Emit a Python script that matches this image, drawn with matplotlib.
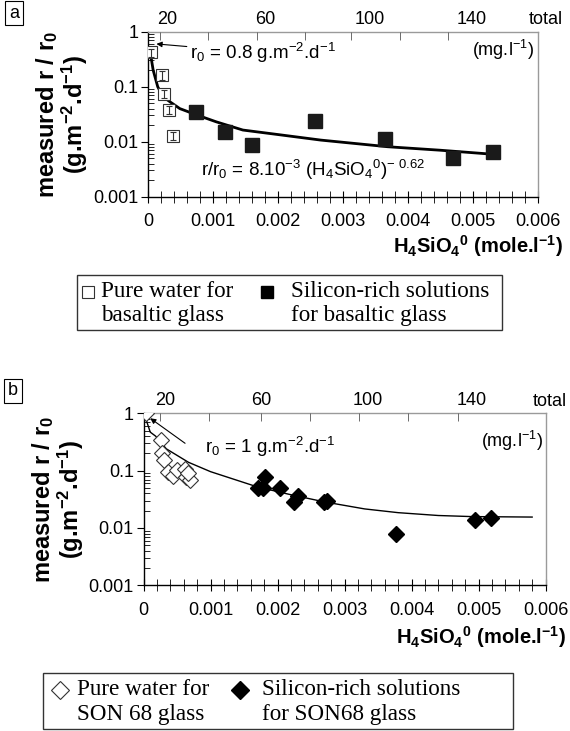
import matplotlib.pyplot as plt
import matplotlib.patches as mpatches
from matplotlib.ticker import FixedLocator, LogLocator, NullFormatter
import numpy as np

plt.rcParams['font.family'] = ['Liberation Sans', 'DejaVu Sans']
plt.rcParams['mathtext.default'] = 'regular'

# panel a : basaltic glass
a_pure_x = [0.00005, 0.00021, 0.00024, 0.00032, 0.00039]
a_pure_y = [0.42, 0.163, 0.074, 0.038, 0.0129]
a_pure_err = [0.17, 0.17, 0.17, 0.17, 0.17]   # relative error bars
a_si_x = [0.00074, 0.00119, 0.0016, 0.00257, 0.00365, 0.00469, 0.00531]
a_si_y = [0.035, 0.0152, 0.0087, 0.024, 0.0112, 0.0050, 0.0066]
a_fit_x = [0.00003, 0.00008, 0.00015, 0.00023, 0.00035, 0.00049, 0.00074,
           0.00105, 0.00146, 0.002, 0.00266, 0.00369, 0.0045, 0.0054]
a_fit_y = [0.46, 0.2, 0.1, 0.066, 0.052, 0.04, 0.031,
           0.023, 0.0163, 0.0135, 0.0107, 0.0081, 0.007, 0.0058]
a_top_ticks = [0.00019, 0.00093, 0.00168, 0.00242, 0.00313, 0.00387, 0.00461]
a_top_label_pos = [0.00029, 0.0018, 0.00341, 0.00498]

# panel b : SON68 glass
b_pure_x = [0.00003, 0.00026, 0.00027, 0.00031, 0.00037, 0.00044, 0.0005,
            0.00062, 0.00064, 0.00069, 0.00067]
b_pure_y = [1.0, 0.34, 0.2, 0.153, 0.096, 0.08, 0.102, 0.105, 0.076, 0.07, 0.092]
b_si_x = [0.00171, 0.00179, 0.00181, 0.00203, 0.00225, 0.00231, 0.0027,
          0.00274, 0.00377, 0.00495, 0.00519]
b_si_y = [0.049, 0.049, 0.076, 0.049, 0.0286, 0.036, 0.0286, 0.03, 0.0078,
          0.0136, 0.015]
b_fit_x = [0.00002, 0.0001, 0.00018, 0.00034, 0.00067, 0.001, 0.0017, 0.0022,
           0.0027, 0.0033, 0.0038, 0.0044, 0.0049, 0.0058]
b_fit_y = [0.9, 0.47, 0.4, 0.24, 0.14, 0.096, 0.052, 0.038,
           0.0285, 0.0215, 0.0185, 0.0165, 0.0158, 0.0155]
b_top_ticks = [0.00024, 0.00098, 0.00176, 0.00248, 0.00322, 0.00395, 0.0047]
b_top_label_pos = [0.00033, 0.00175, 0.00334, 0.0049]

top_labels = ['20', '60', '100', '140']
x_ticks = [0, 0.001, 0.002, 0.003, 0.004, 0.005, 0.006]
x_ticklabels = ['0', '0.001', '0.002', '0.003', '0.004', '0.005', '0.006']
y_ticks = [0.001, 0.01, 0.1, 1]
y_ticklabels = ['0.001', '0.01', '0.1', '1']

fig = plt.figure(figsize=(5.7, 7.31), dpi=100)

TS = 13  # tick label size


def setup_axes(ax, top_ticks, top_label_pos):
    ax.set_yscale('log')
    ax.set_xlim(0, 0.006)
    ax.set_ylim(0.001, 1)
    ax.set_xticks(x_ticks)
    ax.set_xticklabels(x_ticklabels)
    ax.xaxis.set_minor_locator(FixedLocator(np.arange(0, 0.0061, 0.0002)))
    ax.set_yticks(y_ticks)
    ax.set_yticklabels(y_ticklabels)
    ax.yaxis.set_minor_locator(LogLocator(base=10, subs=np.arange(2, 10)))
    ax.yaxis.set_minor_formatter(NullFormatter())
    ax.tick_params(axis='x', which='major', direction='inout', length=8,
                   labelsize=TS, pad=8)
    ax.tick_params(axis='x', which='minor', direction='inout', length=8)
    ax.tick_params(axis='y', which='major', direction='out', length=5,
                   labelsize=TS, pad=2)
    ax.tick_params(axis='y', which='minor', direction='in', length=4)
    for s in ['left', 'bottom']:
        ax.spines[s].set_color('black')
        ax.spines[s].set_linewidth(1.0)
    for s in ['top', 'right']:
        ax.spines[s].set_color('#9a9a9a')
        ax.spines[s].set_linewidth(1.0)
    # top axis in mg/l
    axt = ax.twiny()
    axt.set_xlim(ax.get_xlim())
    axt.set_xticks(top_label_pos)
    axt.set_xticklabels(top_labels)
    axt.tick_params(axis='x', which='major', length=0, labelsize=TS, pad=3)
    axt.xaxis.set_minor_locator(FixedLocator(top_ticks))
    axt.tick_params(axis='x', which='minor', direction='in', length=6,
                    color='#555555')
    for s in axt.spines.values():
        s.set_visible(False)
    ax.text(1.065, 1.02, 'total', transform=ax.transAxes, ha='right',
            va='bottom', fontsize=TS)
    ax.set_ylabel('measured r / r$_0$\n(g.m$^{-2}$.d$^{-1}$)', fontsize=17,
                  fontweight='bold', linespacing=1.0, labelpad=2)
    ax.set_xlabel('H$_4$SiO$_4$$^0$ (mole.l$^{-1}$)', fontsize=14.5,
                  fontweight='bold')
    ax.xaxis.label.set_ha('right')
    ax.xaxis.label.set_va('center')
    return axt


# ---------------- panel a ----------------
axa = fig.add_axes([0.2596, 0.7309, 0.6842, 0.2257])
setup_axes(axa, a_top_ticks, a_top_label_pos)
axa.xaxis.set_label_coords(1.065, -0.3)
axa.plot(a_fit_x, a_fit_y, color='black', lw=2.0, zorder=2)
axa.plot(a_pure_x, a_pure_y, 's', ms=8.5, mfc='white', mec='#333333',
         mew=0.8, zorder=3)
axa.errorbar(a_pure_x, a_pure_y,
             yerr=[np.array(a_pure_y) * np.array(a_pure_err),
                   np.array(a_pure_y) * np.array(a_pure_err)],
             fmt='none', ecolor='#333333', elinewidth=0.8, capsize=2,
             capthick=0.8, zorder=3.5)
axa.plot(a_si_x, a_si_y, 's', ms=9.5, color='#1a1a1a', zorder=4)
axa.annotate(r'r$_0$ = 0.8 g.m$^{-2}$.d$^{-1}$', xy=(0.00013, 0.6),
             xytext=(0.00064, 0.41), va='center', fontsize=13.5,
             arrowprops=dict(arrowstyle='-|>', color='black', lw=0.8,
                             mutation_scale=8, shrinkA=0, shrinkB=0))
axa.text(0.00082, 0.0031,
         r'r/r$_0$ = 8.10$^{-3}$ (H$_4$SiO$_4$$^0$)$^{-\ 0.62}$',
         va='center', fontsize=13.5)
axa.text(0.99, 0.89, r'(mg.l$^{-1}$)', transform=axa.transAxes, ha='right',
         va='center', fontsize=TS)

# ---------------- panel b ----------------
axb = fig.add_axes([0.2518, 0.1993, 0.7053, 0.2353])
setup_axes(axb, b_top_ticks, b_top_label_pos)
axb.texts[0].set_x(1.052)
axb.xaxis.set_label_coords(1.05, -0.3)
axb.plot(b_fit_x, b_fit_y, color='black', lw=1.0, zorder=2)
axb.plot(b_pure_x, b_pure_y, 'D', ms=8, mfc='white', mec='#333333', mew=0.8,
         zorder=3)
axb.plot(b_si_x, b_si_y, 'D', ms=8.5, color='black', zorder=4)
axb.annotate('', xy=(0.0001, 0.82), xytext=(0.00062, 0.3),
             arrowprops=dict(arrowstyle='-|>', color='black', lw=0.8,
                             mutation_scale=8, shrinkA=0, shrinkB=0))
axb.text(0.00092, 0.26, r'r$_0$ = 1 g.m$^{-2}$.d$^{-1}$', va='center',
         fontsize=13.5)
axb.text(0.994, 0.84, r'(mg.l$^{-1}$)', transform=axb.transAxes, ha='right',
         va='center', fontsize=TS)

# panel letters
for lbl, (px, py) in [('a', (14, 13)), ('b', (13, 391))]:
    fig.text(px / 570, 1 - py / 731, lbl, ha='center', va='center',
             fontsize=13,
             bbox=dict(boxstyle='square,pad=0.2', fc='white', ec='black',
                       lw=0.8))


# legends drawn as small frames
def legend_box(x0, y0, x1, y1, marker, texts1, texts2, mx, tx):
    lax = fig.add_axes([x0 / 570, 1 - y1 / 731, (x1 - x0) / 570,
                        (y1 - y0) / 731])
    lax.set_xlim(x0, x1)
    lax.set_ylim(y1, y0)
    lax.set_axis_off()
    lax.add_patch(mpatches.Rectangle((x0, y0), x1 - x0, y1 - y0, fill=False,
                                     ec='#333333', lw=1.0,
                                     transform=lax.transData, clip_on=False))
    yl1 = y0 + (y1 - y0) * 0.3
    yl2 = y0 + (y1 - y0) * 0.74
    for i, filled in enumerate([False, True]):
        if filled:
            lax.plot(mx[i], yl1, marker, ms=9, color='black', clip_on=False)
        else:
            lax.plot(mx[i], yl1, marker, ms=9, mfc='white', mec='#333333',
                     mew=0.8, clip_on=False)
        lax.text(tx[i], yl1, texts1[i], va='center', fontsize=16.7,
                 family='Liberation Serif')
        lax.text(tx[i], yl2, texts2[i], va='center', fontsize=16.7,
                 family='Liberation Serif')


legend_box(77, 275, 502, 330, 's', ['Pure water for', 'Silicon-rich solutions'],
           ['basaltic glass', 'for basaltic glass'], [88, 267], [101, 291])
legend_box(43, 673, 513, 729, 'D', ['Pure water for', 'Silicon-rich solutions'],
           ['SON 68 glass', 'for SON68 glass'], [60, 240], [77, 262])

fig.savefig('out.png', dpi=100)
